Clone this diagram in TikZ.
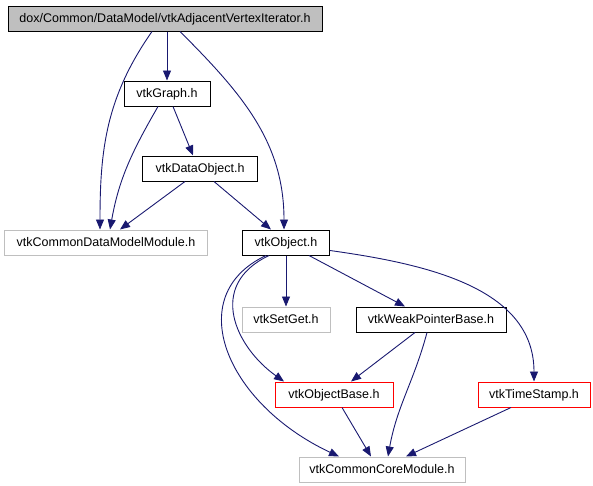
\documentclass[tikz,border=0pt]{standalone}
\usepackage{fontspec}
\setmainfont{Liberation Sans}
\usepackage{xcolor}
\usetikzlibrary{arrows.meta, positioning}

\definecolor{edgeblue}{HTML}{191970}
\definecolor{boxgray}{HTML}{BFBFBF}

\begin{document}
\begin{tikzpicture}[
  x=1pt, y=1pt,
  every node/.style = {font=\fontsize{12.5}{14}\selectfont},
  file/.style = {
    rectangle, draw=black, line width=1pt,
    minimum height=25pt, inner sep=0pt,
    text height=10pt, text depth=2pt, align=center
  },
  current/.style = {file, fill=boxgray},
  extern/.style = {file, draw=boxgray},
  missing/.style = {file, draw=red},
  edge/.style = {-{Triangle[length=10pt, width=8pt]}, line width=0.9pt, edgeblue}
]
\useasboundingbox (0,0) rectangle (593,-485);

% Nodes
\node[current, minimum width=314pt] (iter) at (165,-18.5) {dox/Common/DataModel/vtkAdjacentVertexIterator.h};
\node[file, minimum width=86pt, below=49pt of iter, xshift=2pt] (graph) {vtkGraph.h};
\node[file, minimum width=115pt, below=49pt of graph, xshift=33pt] (dobj) {vtkDataObject.h};
\node[extern, minimum width=203pt, below=48pt of dobj, xshift=-94pt] (cdmm) {vtkCommonDataModelModule.h};
\node[file, minimum width=87pt, right=34pt of cdmm] (obj) {vtkObject.h};
\node[extern, minimum width=88pt, below=51pt of obj] (setget) {vtkSetGet.h};
\node[file, minimum width=150pt, right=25pt of setget] (wpb) {vtkWeakPointerBase.h};
\node[missing, minimum width=118pt, below=49pt of setget, xshift=48pt] (objbase) {vtkObjectBase.h};
\node[missing, minimum width=112pt, right=84pt of objbase] (tstamp) {vtkTimeStamp.h};
\node[extern, minimum width=166pt, below=49pt of objbase, xshift=48pt] (ccm) {vtkCommonCoreModule.h};

% Edges
\draw[edge] ([xshift=2pt]iter.south) -- (graph.north);
\draw[edge] ([xshift=-13pt]iter.south) to[out=235, in=90] ([xshift=-6pt]cdmm.north);
\draw[edge] ([xshift=15pt]iter.south) to[out=-45, in=90] ([xshift=-2pt]obj.north);
\draw[edge] ([xshift=-9pt]graph.south) to[out=240, in=80] ([xshift=4pt]cdmm.north);
\draw[edge] ([xshift=6pt]graph.south) -- ([xshift=-7pt]dobj.north);
\draw[edge] ([xshift=-15pt]dobj.south) -- ([xshift=14pt]cdmm.north);
\draw[edge] ([xshift=14pt]dobj.south) -- ([xshift=-15pt]obj.north);
\draw[edge] (obj.south) -- (setget.north);
\draw[edge] ([xshift=23pt]obj.south) -- ([xshift=-26pt]wpb.north);
\draw[edge] ([yshift=-8pt]obj.east) to[out=-8, in=90] (tstamp.north);
\draw[edge] ([xshift=-17pt]obj.south) .. controls +(-63,-30) and +(-48,34) .. ([xshift=-50pt]objbase.north);
\draw[edge] ([xshift=-20pt]obj.south) .. controls +(-85,-40) and +(-113,53) .. ([xshift=-43pt]ccm.north);
\draw[edge] ([xshift=-16pt]wpb.south) -- ([xshift=17pt]objbase.north);
\draw[edge] ([xshift=-4pt]wpb.south) to[out=-105, in=80] ([xshift=6pt]ccm.north);
\draw[edge] ([xshift=8pt]objbase.south) -- ([xshift=-11pt]ccm.north);
\draw[edge] ([xshift=-23pt]tstamp.south) -- ([xshift=24pt]ccm.north);

\end{tikzpicture}
\end{document}
